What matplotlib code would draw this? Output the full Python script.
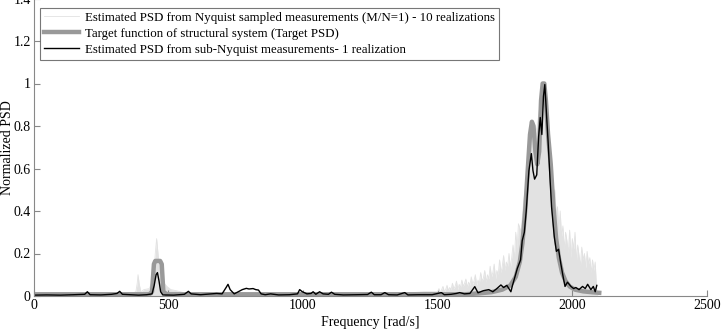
import matplotlib
matplotlib.use('Agg')
import matplotlib.pyplot as plt

plt.rcParams['font.family'] = ['Liberation Serif', 'DejaVu Serif']

# Nyquist sampled estimate, 10 realizations (upper envelope)
nyq_f = [0, 100, 200, 300, 370, 380, 385, 388, 392, 398, 410, 430, 445, 452, 457, 462, 468,
         475, 485, 495, 510, 530, 560, 600, 700, 800, 900, 1000, 1100, 1200, 1300, 1400, 1450,
         1500, 1505, 1510, 1515, 1520, 1525, 1530, 1535, 1540, 1545, 1550, 1555, 1560, 1565,
         1570, 1575, 1580, 1585, 1590, 1595, 1600, 1605, 1610, 1615, 1620, 1625, 1630, 1635,
         1640, 1645, 1650, 1655, 1660, 1665, 1670, 1675, 1680, 1685, 1690, 1695, 1700, 1705,
         1710, 1715, 1720, 1725, 1730, 1735, 1740, 1745, 1750, 1755, 1760, 1765, 1770, 1775,
         1780, 1785, 1790, 1795, 1800, 1810, 1820, 1830, 1840, 1850, 1860, 1870, 1880, 1890,
         1900, 1910, 1920, 1930, 1935, 1940, 1945, 1950, 1955, 1960, 1965, 1970, 1975, 1980,
         1985, 1990, 1995, 2000, 2005, 2010, 2015, 2020, 2025, 2030, 2035, 2040, 2045, 2050,
         2055, 2060, 2065, 2070, 2075, 2080, 2085, 2090, 2095]
nyq_psd = [0.01, 0.012, 0.012, 0.012, 0.015, 0.02, 0.06, 0.1, 0.06, 0.02, 0.03, 0.035, 0.08, 0.2,
           0.27, 0.2, 0.12, 0.08, 0.06, 0.045, 0.03, 0.025, 0.015, 0.015, 0.012, 0.012, 0.012,
           0.012, 0.012, 0.012, 0.012, 0.015, 0.02,
           0.02, 0.035, 0.015, 0.03, 0.045, 0.02, 0.03, 0.05, 0.025, 0.04, 0.03, 0.06, 0.035,
           0.045, 0.07, 0.03, 0.055, 0.04, 0.075, 0.045, 0.06, 0.08, 0.04, 0.065, 0.05, 0.09,
           0.055, 0.07, 0.1, 0.05, 0.075, 0.06, 0.11, 0.07, 0.085, 0.12, 0.065, 0.1, 0.08, 0.14,
           0.09, 0.11, 0.15, 0.08, 0.12, 0.1, 0.17, 0.11, 0.14, 0.19, 0.12, 0.16, 0.14, 0.2,
           0.13, 0.18, 0.24, 0.17, 0.3, 0.22, 0.34, 0.3, 0.45, 0.55, 0.7, 0.8, 0.75, 0.8, 0.9,
           0.95, 0.9, 0.75, 0.6, 0.45, 0.5, 0.38, 0.42, 0.3, 0.4, 0.28, 0.33, 0.22, 0.3, 0.26,
           0.2, 0.31, 0.18, 0.27, 0.22, 0.3, 0.16, 0.24, 0.19, 0.14, 0.23, 0.17, 0.2, 0.13,
           0.21, 0.15, 0.18, 0.11, 0.17, 0.12, 0.16, 0.03, 0.0]

# target PSD of structural system
tgt_f = [0, 200, 430, 440, 447, 452, 470, 476, 482, 495, 800, 1200, 1600, 1650, 1700, 1740,
         1770, 1790, 1805, 1815, 1825, 1835, 1843, 1850, 1856, 1863, 1870, 1877, 1884, 1890,
         1896, 1902, 1910, 1920, 1930, 1940, 1950, 1962, 1975, 1990, 2010, 2040, 2070, 2100]
tgt_psd = [0.008, 0.008, 0.008, 0.02, 0.15, 0.165, 0.165, 0.15, 0.02, 0.008, 0.008, 0.008,
           0.008, 0.012, 0.018, 0.03, 0.05, 0.09, 0.16, 0.25, 0.4, 0.6, 0.76, 0.82, 0.8, 0.68,
           0.62, 0.68, 0.92, 1.0, 1.0, 0.92, 0.76, 0.62, 0.42, 0.27, 0.18, 0.11, 0.07, 0.045,
           0.03, 0.022, 0.018, 0.015]

# sub-Nyquist estimate, 1 realization
sub_f = [0, 50, 100, 150, 190, 200, 210, 250, 290, 310, 320, 330, 360, 390, 420, 440, 448,
         455, 460, 466, 472, 480, 520, 560, 575, 585, 620, 680, 700, 715, 722, 730, 745, 760,
         775, 790, 800, 815, 825, 835, 845, 860, 880, 910, 950, 980, 988, 998, 1015, 1030,
         1038, 1048, 1062, 1075, 1095, 1106, 1118, 1150, 1200, 1240, 1254, 1265, 1290, 1304,
         1318, 1350, 1378, 1390, 1430, 1480, 1514, 1525, 1550, 1570, 1582, 1600, 1620, 1638,
         1650, 1670, 1690, 1705, 1720, 1735, 1745, 1757, 1772, 1778, 1787, 1796, 1808, 1814,
         1822, 1829, 1839, 1848, 1854, 1860, 1868, 1875, 1881, 1887, 1893, 1898, 1904, 1910,
         1917, 1923, 1933, 1941, 1949, 1957, 1966, 1973, 1982, 1995, 2005, 2013, 2025, 2038,
         2048, 2057, 2069, 2078, 2085, 2091]
sub_psd = [0.004, 0.005, 0.004, 0.006, 0.008, 0.02, 0.006, 0.005, 0.008, 0.012, 0.022, 0.008,
           0.006, 0.004, 0.006, 0.01, 0.05, 0.1, 0.11, 0.07, 0.02, 0.005, 0.004, 0.008, 0.022,
           0.01, 0.006, 0.012, 0.01, 0.04, 0.055, 0.03, 0.01, 0.02, 0.03, 0.036, 0.033, 0.035,
           0.03, 0.028, 0.01, 0.006, 0.01, 0.005, 0.006, 0.01, 0.03, 0.02, 0.01, 0.012, 0.02,
           0.008, 0.02, 0.01, 0.008, 0.018, 0.008, 0.005, 0.006, 0.007, 0.018, 0.006, 0.006,
           0.016, 0.006, 0.005, 0.016, 0.005, 0.006, 0.006, 0.016, 0.006, 0.008, 0.012, 0.016,
           0.01, 0.012, 0.044, 0.015, 0.025, 0.03, 0.02, 0.035, 0.052, 0.04, 0.05, 0.02, 0.05,
           0.09, 0.13, 0.17, 0.26, 0.3, 0.4, 0.59, 0.67, 0.59, 0.55, 0.57, 0.75, 0.84, 0.76,
           0.94, 0.995, 0.86, 0.73, 0.56, 0.42, 0.28, 0.21, 0.22, 0.155, 0.09, 0.045, 0.065,
           0.045, 0.035, 0.04, 0.03, 0.045, 0.035, 0.055, 0.03, 0.045, 0.02, 0.05]

fig = plt.figure(figsize=(7.27, 3.34), dpi=100)
ax = fig.add_axes([33.5 / 727, 1 - 296 / 334, (707 - 33.5) / 727, 297.5 / 334])

nyq_c = '#e2e2e2'
ax.fill_between(nyq_f, 0, nyq_psd, color=nyq_c, lw=0)
ax.plot(nyq_f, nyq_psd, color=nyq_c, lw=0.6,
        label='Estimated PSD from Nyquist sampled measurements (M/N=1) - 10 realizations')
ax.plot(tgt_f, tgt_psd, color='#999999', lw=3.2,
        label='Target function of structural system (Target PSD)')
ax.plot(sub_f, sub_psd, color='black', lw=1.0,
        label='Estimated PSD from sub-Nyquist measurements- 1 realization')

ax.set_xlim(0, 2500)
ax.set_ylim(0, 1.4)
ax.set_xticks([0, 500, 1000, 1500, 2000, 2500])
ax.set_yticks([0, 0.2, 0.4, 0.6, 0.8, 1, 1.2, 1.4])
ax.set_yticklabels(['0', '0.2', '0.4', '0.6', '0.8', '1', '1.2', '1.4'])
ax.tick_params(direction='in', length=4, labelsize=10, color='#888888', pad=2)
for s in ['top', 'right']:
    ax.spines[s].set_visible(False)
for s in ['left', 'bottom']:
    ax.spines[s].set_color('#888888')
    ax.spines[s].set_linewidth(0.8)

ax.set_xlabel('Frequency [rad/s]', fontsize=10, labelpad=3)
ax.set_ylabel('Normalized PSD', fontsize=10)
ax.yaxis.set_label_coords(-0.029, 0.5)

leg = ax.legend(loc='upper left', bbox_to_anchor=(40 / 727, 1 - 8 / 334),
                bbox_transform=fig.transFigure, borderaxespad=0, fontsize=9.3,
                frameon=True, fancybox=False, handlelength=2.7, labelspacing=0.3,
                borderpad=0.3, handletextpad=0.5)
leg.get_frame().set_edgecolor('#555555')
leg.get_frame().set_linewidth(0.8)

fig.savefig('out.png', dpi=100)
